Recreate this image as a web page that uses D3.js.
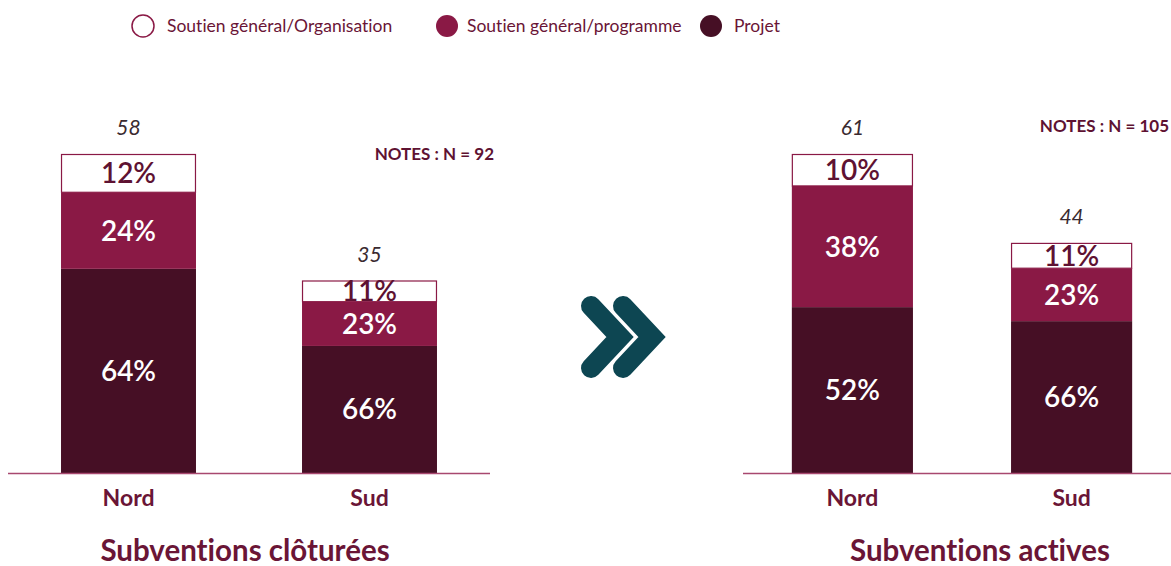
<!DOCTYPE html>
<html><head><meta charset="utf-8">
<script src="https://cdn.jsdelivr.net/npm/d3@7"></script>
<style>
html,body{margin:0;padding:0;background:#fff;}
svg{display:block;font-family:Lato,"Open Sans",sans-serif;font-variant-ligatures:none;font-feature-settings:"liga" 0;}
</style></head>
<body>
<svg id="chart" width="1171" height="566"></svg>
<script>
// ---- data ----
const categories = ["Nord", "Sud"];
const seriesNames = ["Soutien général/Organisation", "Soutien général/programme", "Projet"];
const panelTitles = ["Subventions clôturées", "Subventions actives"];
const panelNotes = ["NOTES : N = 92", "NOTES : N = 105"];

const closedTotals = [58, 35];
const closedOrganisation = [12, 11];
const closedProgramme = [24, 23];
const closedProjet = [64, 66];

const activeTotals = [61, 44];
const activeOrganisation = [10, 11];
const activeProgramme = [38, 23];
const activeProjet = [52, 66];

// ---- style ----
const colOrg = "#ffffff", colProg = "#8a1945", colProj = "#460f25";
const textCol = "#6a1536", arrowCol = "#0d4652";

const svg = d3.select("#chart");

// Legend
const legendX = [143, 447, 711];
const legendTextDx = [24, 20, 23];
const legend = svg.append("g");
seriesNames.forEach((name, i) => {
  const g = legend.append("g").attr("transform", `translate(${legendX[i]},26)`);
  g.append("circle").attr("r", 11)
    .attr("fill", [colOrg, colProg, colProj][i])
    .attr("stroke", i === 0 ? colProg : "none").attr("stroke-width", 1.5);
  g.append("text").attr("x", legendTextDx[i]).attr("y", 6)
    .attr("font-size", 17.5).attr("fill", textCol).text(name);
});

const panels = [
  { totals: closedTotals, org: closedOrganisation, prog: closedProgramme, proj: closedProjet,
    band: [8, 490], pi: 0.44, po: 0.22, line: [8, 490], notesX: 494, notesY: 160, titleX: 245 },
  { totals: activeTotals, org: activeOrganisation, prog: activeProgramme, proj: activeProjet,
    band: [748, 1176], pi: 0.4475, po: 0.2, line: [743, 1171], notesX: 1169, notesY: 132, titleX: 980 }
];

const baseY = 473, topY = 154;

panels.forEach((p, pi) => {
  const g = svg.append("g");
  const x = d3.scaleBand().domain(categories).range(p.band).paddingInner(p.pi).paddingOuter(p.po);
  const y = d3.scaleLinear().domain([0, d3.max(p.totals)]).range([baseY, topY]);

  const rows = categories.map((c, i) => ({ cat: c, total: p.totals[i], Projet: p.proj[i], Programme: p.prog[i], Organisation: p.org[i] }));
  const keys = ["Projet", "Programme", "Organisation"];
  const stacked = d3.stack().keys(keys).offset(d3.stackOffsetExpand)(rows);
  const fills = { Projet: colProj, Programme: colProg, Organisation: colOrg };

  stacked.forEach(layer => {
    layer.forEach(d => {
      const row = d.data;
      const ys = d3.scaleLinear().domain([0, 1]).range([baseY, y(row.total)]);
      const y0 = ys(d[1]), y1 = ys(d[0]);
      const isOrg = layer.key === "Organisation";
      g.append("rect")
        .attr("x", x(row.cat) + (isOrg ? 0.5 : 0)).attr("width", x.bandwidth() - (isOrg ? 1 : 0))
        .attr("y", y0 + (isOrg ? 0.5 : 0)).attr("height", y1 - y0 - (isOrg ? 0.5 : 0))
        .attr("fill", fills[layer.key])
        .attr("stroke", isOrg ? colProg : "none").attr("stroke-width", 1.2);
      g.append("text")
        .attr("x", x(row.cat) + x.bandwidth() / 2).attr("y", (y0 + y1) / 2 + 10)
        .attr("text-anchor", "middle").attr("font-size", 28).attr("font-weight", 600)
        .attr("fill", isOrg ? "#5e1232" : "#ffffff")
        .text(row[layer.key] + "%");
    });
  });

  // totals
  rows.forEach(row => {
    g.append("text").attr("x", x(row.cat) + x.bandwidth() / 2).attr("y", y(row.total) - 19)
      .attr("text-anchor", "middle").attr("font-size", 21).attr("font-style", "italic")
      .attr("fill", "#3a2a30").text(row.total);
  });

  // baseline
  g.append("line").attr("x1", p.line[0]).attr("x2", p.line[1]).attr("y1", baseY + 0.5).attr("y2", baseY + 0.5)
    .attr("stroke", "#a8486f").attr("stroke-width", 1.5);

  // category labels
  const xAxis = d3.axisBottom(x).tickSize(0).tickPadding(0);
  const ax = g.append("g").attr("transform", `translate(0,${baseY})`).call(xAxis);
  ax.select(".domain").remove();
  ax.selectAll("text").attr("dy", 0).attr("y", 33).attr("font-family", "Lato").attr("font-size", 23)
    .attr("font-weight", 700).attr("fill", textCol);

  // notes
  g.append("text").attr("x", p.notesX).attr("y", p.notesY).attr("text-anchor", "end")
    .attr("font-size", 17).attr("font-weight", 700).attr("fill", "#5e1232").text(panelNotes[pi]);

  // title
  g.append("text").attr("x", p.titleX).attr("y", 561).attr("text-anchor", "middle")
    .attr("font-size", 29.5).attr("font-weight", 700).attr("fill", textCol).text(panelTitles[pi]);
});

// double chevron arrow
const chev = d3.line();
[[591, 306, 620, 337, 591, 368], [623, 306, 652, 337, 623, 368]].forEach(c => {
  svg.append("path").attr("d", chev([[c[0], c[1]], [c[2], c[3]], [c[4], c[5]]]))
    .attr("fill", "none").attr("stroke", arrowCol).attr("stroke-width", 20)
    .attr("stroke-linecap", "round").attr("stroke-linejoin", "miter");
});
</script>
</body></html>
